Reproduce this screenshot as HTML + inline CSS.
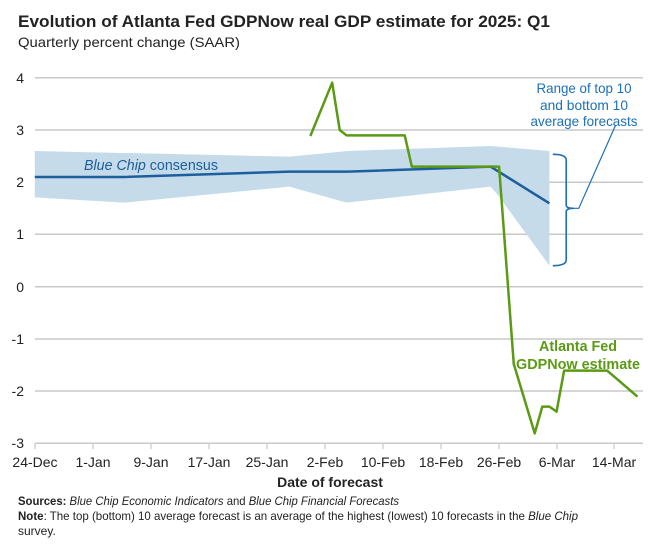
<!DOCTYPE html>
<html><head><meta charset="utf-8"><style>
body{margin:0;background:#fff;}
svg{display:block;font-family:"Liberation Sans Narrow","Liberation Sans",sans-serif;}
</style></head><body>
<svg width="650" height="544" viewBox="0 0 650 544" xmlns="http://www.w3.org/2000/svg">
<text x="18" y="27" font-size="17" font-weight="bold" fill="#222" textLength="532" lengthAdjust="spacingAndGlyphs">Evolution of Atlanta Fed GDPNow real GDP estimate for 2025: Q1</text>
<text x="18" y="47" font-size="14" fill="#222" textLength="222" lengthAdjust="spacingAndGlyphs">Quarterly percent change (SAAR)</text>
<g stroke="#c8c8c8" stroke-width="1.5">
<line x1="35" x2="643" y1="77.7" y2="77.7"/><line x1="35" x2="643" y1="130" y2="130"/>
<line x1="35" x2="643" y1="182.3" y2="182.3"/><line x1="35" x2="643" y1="234.3" y2="234.3"/>
<line x1="35" x2="643" y1="286.7" y2="286.7"/><line x1="35" x2="643" y1="339" y2="339"/>
<line x1="35" x2="643" y1="391" y2="391"/><line x1="35" x2="643" y1="443.3" y2="443.3"/>
</g>
<g stroke="#c8c8c8" stroke-width="1.2">
<line x1="35" x2="35" y1="443" y2="449"/><line x1="93" x2="93" y1="443" y2="449"/><line x1="151" x2="151" y1="443" y2="449"/><line x1="209" x2="209" y1="443" y2="449"/><line x1="267" x2="267" y1="443" y2="449"/><line x1="325" x2="325" y1="443" y2="449"/><line x1="383" x2="383" y1="443" y2="449"/><line x1="441" x2="441" y1="443" y2="449"/><line x1="499" x2="499" y1="443" y2="449"/><line x1="557" x2="557" y1="443" y2="449"/><line x1="614" x2="614" y1="443" y2="449"/>
</g>
<g font-size="14" fill="#222" text-anchor="end">
<text x="24" y="83">4</text><text x="24" y="135">3</text><text x="24" y="187">2</text><text x="24" y="239">1</text><text x="24" y="292">0</text><text x="24" y="344">-1</text><text x="24" y="396">-2</text><text x="24" y="448">-3</text>
</g>
<g font-size="14" fill="#222" text-anchor="middle">
<text x="35" y="467">24-Dec</text><text x="93" y="467">1-Jan</text><text x="151" y="467">9-Jan</text><text x="209" y="467">17-Jan</text><text x="267" y="467">25-Jan</text><text x="325" y="467">2-Feb</text><text x="383" y="467">10-Feb</text><text x="441" y="467">18-Feb</text><text x="499" y="467">26-Feb</text><text x="557" y="467">6-Mar</text><text x="614" y="467">14-Mar</text>
<text x="330" y="487" font-weight="bold">Date of forecast</text>
</g>
<g transform="translate(0,60) scale(0.4194,0.33333)">
<polygon fill="#c5dbea" points="83,273 690,290 830,273 1170,258 1310,273 1310,617 1190,410 1170,380 826,428 690,380 296,428 83,412"/>
<polyline fill="none" stroke="#1c5f9c" stroke-width="2.5" vector-effect="non-scaling-stroke" points="83,351 296,351 690,335 830,335 1170,320 1310,430"/>
<polyline fill="none" stroke="#5a9a14" stroke-width="2.5" vector-effect="non-scaling-stroke" stroke-linejoin="round" points="740,228 792,68 810,210 826,226 965,226 982,320 1190,320 1225,912 1275,1120 1293,1040 1310,1040 1327,1055 1345,932 1448,932 1520,1010"/>
<path fill="none" stroke="#1c6fb8" stroke-width="1.6" vector-effect="non-scaling-stroke" d="M1318,283 Q1350,283 1350,300 L1350,435 Q1350,445 1368,445 Q1350,445 1350,455 L1350,600 Q1350,617 1318,617"/>
<polyline fill="none" stroke="#1c6fb8" stroke-width="1.2" vector-effect="non-scaling-stroke" points="1360,445 1380,445 1468,195"/>
</g>
<text x="84" y="170" font-size="15" fill="#1c5f9c" textLength="134" lengthAdjust="spacingAndGlyphs"><tspan font-style="italic">Blue Chip</tspan> consensus</text>
<g font-size="14" fill="#1c6fb8" text-anchor="middle">
<text x="584" y="93" textLength="95" lengthAdjust="spacingAndGlyphs">Range of top 10</text><text x="584" y="110" textLength="88" lengthAdjust="spacingAndGlyphs">and bottom 10</text><text x="584" y="126" textLength="107" lengthAdjust="spacingAndGlyphs">average forecasts</text>
</g>
<g font-size="15" fill="#5a9a14" text-anchor="middle" font-weight="bold">
<text x="578" y="351" textLength="78" lengthAdjust="spacingAndGlyphs">Atlanta Fed</text><text x="578" y="369" textLength="124" lengthAdjust="spacingAndGlyphs">GDPNow estimate</text>
</g>
<g font-size="12" fill="#222">
<text x="18" y="505" textLength="381" lengthAdjust="spacingAndGlyphs"><tspan font-weight="bold">Sources:</tspan> <tspan font-style="italic">Blue Chip Economic Indicators</tspan> and <tspan font-style="italic">Blue Chip Financial Forecasts</tspan></text>
<text x="18" y="520" textLength="560" lengthAdjust="spacingAndGlyphs"><tspan font-weight="bold">Note</tspan>: The top (bottom) 10 average forecast is an average of the highest (lowest) 10 forecasts in the <tspan font-style="italic">Blue Chip</tspan></text>
<text x="18" y="535">survey.</text>
</g>
</svg>
</body></html>
